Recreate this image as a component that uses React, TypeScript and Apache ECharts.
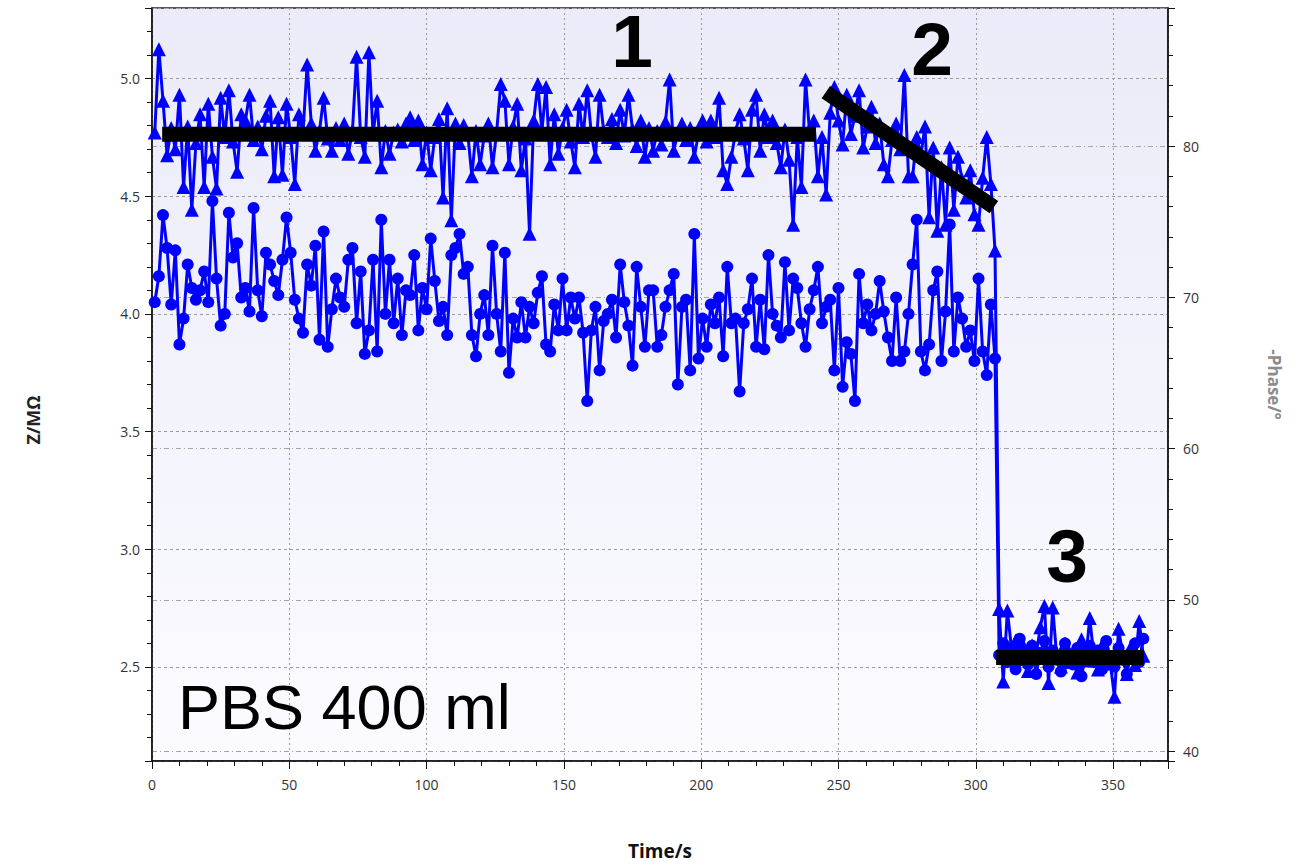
import React, { useEffect, useRef } from "react";
import * as echarts from "echarts";

// Sampling clock of the recorder (s)
const T_START = 1;
const T_STEP = 1.5;

// Impedance magnitude, MΩ (circles, left axis)
const Z_MOHM = [
  4.05, 4.16, 4.42, 4.28, 4.04, 4.27, 3.87, 3.98, 4.21, 4.11,
  4.06, 4.10, 4.18, 4.05, 4.48, 4.15, 3.95, 4.00, 4.43, 4.24,
  4.30, 4.07, 4.11, 4.01, 4.45, 4.10, 3.99, 4.26, 4.21, 4.14,
  4.08, 4.23, 4.41, 4.26, 4.06, 3.98, 3.92, 4.21, 4.12, 4.29,
  3.89, 4.35, 3.86, 4.02, 4.15, 4.07, 4.03, 4.23, 4.28, 3.96,
  4.18, 3.83, 3.93, 4.23, 3.84, 4.40, 4.00, 4.23, 3.96, 4.15,
  3.91, 4.10, 4.08, 4.25, 3.93, 4.11, 4.02, 4.32, 4.14, 3.97,
  4.03, 3.91, 4.25, 4.28, 4.34, 4.17, 4.20, 3.91, 3.82, 4.00,
  4.08, 3.91, 4.29, 4.00, 3.84, 4.26, 3.75, 3.98, 3.90, 4.05,
  3.90, 4.03, 3.96, 4.09, 4.16, 3.87, 3.84, 4.04, 3.93, 4.15,
  3.93, 4.07, 3.98, 4.07, 3.92, 3.63, 3.93, 4.03, 3.76, 3.97,
  4.00, 4.06, 3.90, 4.21, 4.05, 3.95, 3.78, 4.20, 4.03, 3.86,
  4.10, 4.10, 3.86, 3.91, 4.03, 4.10, 4.17, 3.70, 4.03, 4.06,
  3.76, 4.34, 3.81, 3.98, 3.86, 4.04, 3.96, 4.07, 3.82, 4.20,
  3.96, 3.98, 3.67, 3.96, 4.02, 4.15, 3.86, 4.06, 3.85, 4.25,
  4.00, 3.95, 3.90, 4.22, 3.93, 4.15, 4.11, 3.96, 3.86, 4.02,
  4.10, 4.20, 3.96, 4.03, 4.06, 3.76, 4.11, 3.69, 3.88, 3.83,
  3.63, 4.17, 3.96, 4.04, 3.93, 4.00, 4.14, 4.01, 3.90, 3.80,
  4.07, 3.80, 3.84, 4.00, 4.21, 4.40, 3.84, 3.76, 3.87, 4.10,
  4.18, 3.80, 4.01, 4.38, 3.84, 4.07, 3.98, 3.86, 3.93, 3.80,
  4.15, 3.84, 3.74, 4.04, 3.81, 2.55, 2.60, 2.52, 2.58, 2.49,
  2.62, 2.55, 2.51, 2.59, 2.47, 2.56, 2.61, 2.50, 2.57, 2.53,
  2.48, 2.60, 2.54, 2.51, 2.58, 2.46, 2.55, 2.59, 2.52, 2.57,
  2.49, 2.61, 2.54, 2.50, 2.58, 2.53, 2.47, 2.56, 2.60, 2.52, 2.62,
];

// Negative phase angle, degrees (triangles, right axis)
const PHASE_DEG = [
  80.9, 86.4, 83.0, 79.4, 81.2, 79.8, 83.4, 77.3, 81.3, 75.8,
  80.2, 82.1, 77.3, 82.8, 79.3, 77.2, 83.2, 80.6, 83.7, 80.3,
  78.3, 82.1, 81.7, 83.4, 80.4, 81.3, 79.8, 82.0, 83.0, 78.0,
  81.9, 78.1, 82.8, 80.6, 77.5, 82.1, 80.9, 85.4, 81.5, 79.7,
  81.0, 83.2, 80.5, 79.7, 81.2, 80.4, 81.5, 79.5, 81.0, 85.9,
  80.6, 79.3, 86.2, 80.8, 83.0, 78.6, 81.0, 79.5, 80.9, 81.1,
  80.3, 81.5, 81.9, 80.4, 81.7, 78.8, 80.9, 78.4, 80.6, 81.8,
  76.6, 82.5, 75.1, 81.5, 80.2, 81.4, 80.8, 78.0, 81.0, 78.8,
  80.7, 81.5, 78.6, 80.9, 84.1, 83.0, 78.8, 81.3, 82.8, 78.4,
  80.5, 74.2, 81.7, 84.1, 81.0, 83.9, 78.8, 82.1, 79.5, 81.2,
  82.4, 80.3, 78.6, 82.8, 80.6, 83.7, 80.8, 79.3, 83.4, 81.0,
  80.6, 81.8, 80.2, 82.4, 80.7, 83.4, 81.1, 80.0, 81.7, 79.3,
  81.2, 79.7, 81.0, 80.1, 81.6, 84.4, 79.7, 80.9, 81.5, 80.4,
  81.2, 79.3, 80.8, 81.7, 80.3, 81.7, 80.6, 83.2, 78.4, 77.5,
  79.3, 80.9, 82.1, 80.5, 78.4, 82.4, 83.4, 79.7, 82.1, 80.6,
  81.7, 80.2, 78.6, 81.1, 79.1, 74.8, 80.6, 77.3, 84.4, 80.8,
  81.7, 78.0, 80.6, 76.8, 82.2, 83.9, 81.7, 80.1, 83.4, 80.8,
  82.0, 83.7, 79.9, 81.3, 82.6, 80.2, 81.5, 78.8, 78.0, 80.4,
  81.5, 79.8, 84.7, 78.0, 78.0, 80.6, 79.4, 81.3, 75.3, 79.9,
  74.4, 78.6, 74.8, 79.9, 75.8, 79.3, 77.8, 76.6, 78.4, 75.5,
  74.8, 77.9, 80.6, 77.5, 73.1, 49.4, 44.6, 49.3, 46.8, 47.3,
  46.1, 46.9, 45.3, 47.0, 46.4, 48.2, 49.6, 44.5, 49.5, 46.2,
  45.6, 47.1, 45.9, 46.6, 45.2, 47.4, 46.0, 48.8, 46.3, 45.4,
  47.0, 46.5, 45.8, 43.6, 48.1, 46.4, 45.1, 46.9, 45.7, 48.6, 46.3,
];

// Axis ranges
const TIME_RANGE = [0, 370];
const TIME_TICK = 50;
const Z_RANGE = [2.1, 5.3];
const PHASE_RANGE = [39.35, 89.13];

// Hand-drawn trend bars (time s, -phase °)
const TREND_1 = [[3.7, 80.78], [241.7, 80.78]];
const TREND_2 = [[245.4, 83.57], [306.6, 75.97]];
const TREND_3 = [[307.4, 46.2], [361.2, 46.2]];
const STAGE_LABELS = ["1", "2", "3"];
const NOTE = "PBS 400 ml";
const Z_TITLE = "Z/MΩ";

const AXIS_FONT = '"Open Sans", "DejaVu Sans", sans-serif';
const BIG_FONT = '"Liberation Sans", Arial, sans-serif';
const BLUE = "#0000ff";

const toSeries = (vals: number[]) =>
  vals.map((v, i) => [T_START + i * T_STEP, v]);

export default function App() {
  const ref = useRef<HTMLDivElement>(null);

  useEffect(() => {
    if (!ref.current) return;
    const chart = echarts.init(ref.current, undefined, { renderer: "svg" });

    const axisDark = "#111111";
    const trend = (data: number[][]) => ({
      type: "line",
      yAxisIndex: 1,
      data,
      symbol: "none",
      silent: true,
      z: 10,
      lineStyle: { color: "#000000", width: 15, cap: "butt" },
    });
    const bigDigit = (text: string, x: number, y: number) => ({
      type: "text",
      x,
      y,
      z: 100,
      style: {
        text,
        fill: "#000",
        fontFamily: BIG_FONT,
        fontWeight: "bold",
        fontSize: 75,
        align: "center",
        verticalAlign: "middle",
      },
    });

    const option: any = {
      animation: false,
      backgroundColor: "#ffffff",
      grid: {
        left: 152,
        right: 134,
        top: 8,
        bottom: 106,
        show: true,
        borderColor: "#222222",
        borderWidth: 1.5,
        backgroundColor: new echarts.graphic.LinearGradient(0, 0, 0, 1, [
          { offset: 0, color: "#ebebf9" },
          { offset: 1, color: "#fbfbff" },
        ]),
      },
      xAxis: {
        type: "value",
        min: TIME_RANGE[0],
        max: TIME_RANGE[1],
        interval: TIME_TICK,
        name: "Time/s",
        nameLocation: "middle",
        nameGap: 80,
        nameTextStyle: {
          fontFamily: AXIS_FONT,
          fontWeight: "bold",
          fontSize: 19,
          color: "#111111",
        },
        axisLine: { show: true, onZero: false, lineStyle: { color: axisDark, width: 1.5 } },
        axisTick: { show: true, length: 8, lineStyle: { color: axisDark } },
        minorTick: { show: true, splitNumber: 5, length: 5, lineStyle: { color: axisDark } },
        axisLabel: {
          showMaxLabel: false,
          margin: 16,
          fontSize: 14,
          color: "#333333",
          fontFamily: AXIS_FONT,
        },
        splitLine: { show: true, lineStyle: { color: "#999999", type: [2, 3], width: 1 } },
      },
      yAxis: [
        {
          type: "value",
          position: "left",
          min: Z_RANGE[0],
          max: Z_RANGE[1],
          splitNumber: 5,
          axisLine: { show: true, lineStyle: { color: axisDark, width: 1.5 } },
          axisTick: { show: true, length: 7, lineStyle: { color: axisDark } },
          minorTick: { show: true, splitNumber: 5, length: 5, lineStyle: { color: axisDark } },
          axisLabel: {
            showMinLabel: false,
            showMaxLabel: false,
            margin: 12,
            fontSize: 14,
            color: "#333333",
            fontFamily: AXIS_FONT,
            formatter: (v: number) => v.toFixed(1),
          },
          splitLine: { show: true, lineStyle: { color: "#999999", type: [3, 3], width: 1 } },
        },
        {
          type: "value",
          position: "right",
          min: PHASE_RANGE[0],
          max: PHASE_RANGE[1],
          splitNumber: 5,
          name: "-Phase/°",
          nameLocation: "middle",
          nameRotate: -90,
          nameGap: 98,
          nameTextStyle: {
            fontFamily: AXIS_FONT,
            fontWeight: "bold",
            fontSize: 17,
            color: "#8c8c8c",
          },
          axisLine: { show: true, lineStyle: { color: axisDark, width: 1.5 } },
          axisTick: { show: true, length: 7, lineStyle: { color: axisDark } },
          minorTick: { show: true, splitNumber: 5, length: 5, lineStyle: { color: axisDark } },
          axisLabel: {
            showMinLabel: false,
            showMaxLabel: false,
            margin: 15,
            fontSize: 14,
            color: "#333333",
            fontFamily: AXIS_FONT,
            formatter: (v: number) => (Math.abs(v - Math.round(v)) < 1e-6 ? String(Math.round(v)) : ""),
          },
          splitLine: { show: true, lineStyle: { color: "#a5a5a5", type: [5, 3, 1, 3], width: 1 } },
        },
      ],
      series: [
        {
          type: "line",
          name: "Z",
          yAxisIndex: 0,
          data: toSeries(Z_MOHM),
          symbol: "circle",
          symbolSize: 12,
          showAllSymbol: true,
          itemStyle: { color: BLUE },
          lineStyle: { color: BLUE, width: 3 },
          z: 3,
        },
        {
          type: "line",
          name: "-Phase",
          yAxisIndex: 1,
          data: toSeries(PHASE_DEG),
          symbol: "triangle",
          symbolSize: [14, 14],
          showAllSymbol: true,
          itemStyle: { color: BLUE },
          lineStyle: { color: BLUE, width: 3 },
          z: 4,
        },
        trend(TREND_1),
        trend(TREND_2),
        trend(TREND_3),
      ],
      graphic: [
        {
          type: "text",
          x: 33,
          y: 420,
          rotation: Math.PI / 2,
          z: 100,
          style: {
            text: Z_TITLE,
            fill: "#222222",
            fontFamily: AXIS_FONT,
            fontWeight: "bold",
            fontSize: 18,
            align: "center",
            verticalAlign: "middle",
          },
        },
        bigDigit(STAGE_LABELS[0], 632, 41),
        bigDigit(STAGE_LABELS[1], 932, 49),
        bigDigit(STAGE_LABELS[2], 1067, 556),
        {
          type: "text",
          x: 178,
          y: 707,
          z: 100,
          style: {
            text: NOTE,
            fill: "#000",
            fontFamily: BIG_FONT,
            fontSize: 63,
            align: "left",
            verticalAlign: "middle",
          },
        },
      ],
    };

    chart.setOption(option);
    return () => chart.dispose();
  }, []);

  return (
    <div
      ref={ref}
      style={{ position: "absolute", left: 0, top: 0, width: 1302, height: 867 }}
    />
  );
}
